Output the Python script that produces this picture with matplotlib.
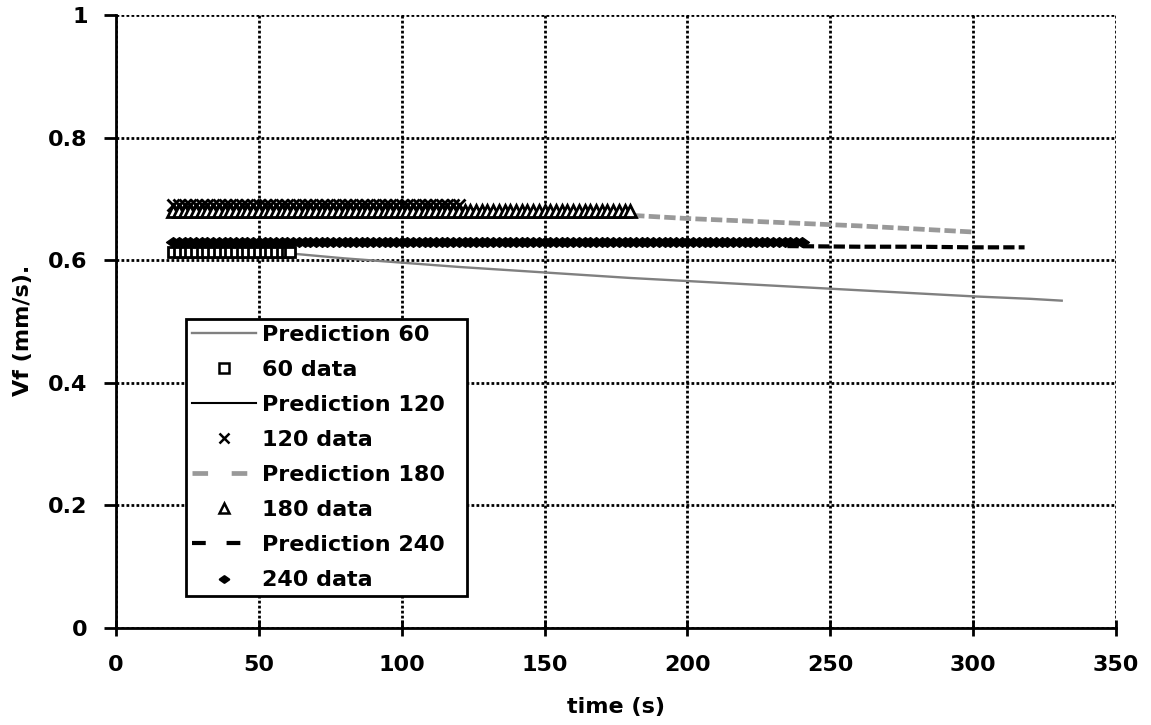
import matplotlib
matplotlib.use("Agg")
import matplotlib.pyplot as plt
from matplotlib.path import Path

plt.rcParams['font.family'] = ['DejaVu Sans']
plt.rcParams['font.weight'] = 'bold'

# ---- data ----
t_data60 = [20, 22, 24, 26, 28, 30, 32, 34, 36, 38, 40, 42, 44, 46, 48, 50, 52, 54, 56, 58, 60, 61]
v_data60 = [0.613] * len(t_data60)

t_data120 = [20, 22, 24, 26, 28, 30, 32, 34, 36, 38, 40, 42, 44, 46, 48, 50, 52, 54, 56, 58,
             60, 62, 64, 66, 68, 70, 72, 74, 76, 78, 80, 82, 84, 86, 88, 90, 92, 94, 96, 98,
             100, 102, 104, 106, 108, 110, 112, 114, 116, 118, 120]
v_data120 = [0.690] * len(t_data120)

t_data180 = [20, 22, 24, 26, 28, 30, 32, 34, 36, 38, 40, 42, 44, 46, 48, 50, 52, 54, 56, 58,
             60, 62, 64, 66, 68, 70, 72, 74, 76, 78, 80, 82, 84, 86, 88, 90, 92, 94, 96, 98,
             100, 102, 104, 106, 108, 110, 112, 114, 116, 118, 120, 122, 124, 126, 128, 130,
             132, 134, 136, 138, 140, 142, 144, 146, 148, 150, 152, 154, 156, 158, 160, 162,
             164, 166, 168, 170, 172, 174, 176, 178, 180]
v_data180 = [0.680] * len(t_data180)

t_data240 = [20, 22, 24, 26, 28, 30, 32, 34, 36, 38, 40, 42, 44, 46, 48, 50, 52, 54, 56, 58,
             60, 62, 64, 66, 68, 70, 72, 74, 76, 78, 80, 82, 84, 86, 88, 90, 92, 94, 96, 98,
             100, 102, 104, 106, 108, 110, 112, 114, 116, 118, 120, 122, 124, 126, 128, 130,
             132, 134, 136, 138, 140, 142, 144, 146, 148, 150, 152, 154, 156, 158, 160, 162,
             164, 166, 168, 170, 172, 174, 176, 178, 180, 182, 184, 186, 188, 190, 192, 194,
             196, 198, 200, 202, 204, 206, 208, 210, 212, 214, 216, 218, 220, 222, 224, 226,
             228, 230, 232, 234, 236, 238, 240]
v_data240 = [0.630] * len(t_data240)

t_pred60 = [61, 80, 100, 120, 140, 160, 180, 200, 220, 240, 260, 280, 300, 320, 331]
v_pred60 = [0.611, 0.603, 0.596, 0.589, 0.583, 0.577, 0.571, 0.566, 0.561, 0.556, 0.551,
            0.546, 0.541, 0.537, 0.534]

t_pred120 = [121, 140, 160, 181]
v_pred120 = [0.684, 0.681, 0.679, 0.677]

t_pred180 = [181, 200, 220, 240, 260, 280, 300]
v_pred180 = [0.673, 0.668, 0.664, 0.660, 0.656, 0.651, 0.646]

t_pred240 = [235, 260, 280, 300, 318]
v_pred240 = [0.623, 0.622, 0.622, 0.621, 0.621]

x_ticks = [0, 50, 100, 150, 200, 250, 300, 350]
y_ticks = [0, 0.2, 0.4, 0.6, 0.8, 1]
y_ticklabels = ['0', '0.2', '0.4', '0.6', '0.8', '1']

# ---- figure ----
fig = plt.figure(figsize=(11.51, 7.25), dpi=100)
ax = fig.add_axes([116/1151, 1 - 628/725, 1000/1151, 613/725])

wide_diamond = Path([(-1, 0), (0, 0.7), (1, 0), (0, -0.7), (-1, 0)],
                    [Path.MOVETO, Path.LINETO, Path.LINETO, Path.LINETO, Path.CLOSEPOLY])

ax.plot(t_pred60, v_pred60, color='#808080', lw=1.7, label='Prediction 60', zorder=3)
ax.plot(t_data60, v_data60, ls='none', marker='s', ms=7, mfc='white', mec='black', mew=2.0,
        label='60 data', zorder=4)
ax.plot(t_pred120, v_pred120, color='black', lw=1.5, label='Prediction 120', zorder=3)
ax.plot(t_data120, v_data120, ls='none', marker='x', ms=8.5, mec='black', mew=2.0,
        label='120 data', zorder=4)
ax.plot(t_pred180, v_pred180, color='#999999', lw=3.4, ls=(0, (2.4, 0.9)),
        label='Prediction 180', zorder=3)
ax.plot(t_data180, v_data180, ls='none', marker='^', ms=8, mfc='white', mec='black', mew=2.0,
        label='180 data', zorder=4)
ax.plot(t_pred240, v_pred240, color='black', lw=3.0, ls=(0, (2.7, 1.0)),
        label='Prediction 240', zorder=3)
ax.plot(t_data240, v_data240, ls='none', marker=wide_diamond, ms=10, mfc='black', mec='black',
        mew=1.0, label='240 data', zorder=4)

ax.set_xlim(0, 350)
ax.set_ylim(0, 1)
ax.set_xticks(x_ticks)
ax.set_yticks(y_ticks)
ax.set_yticklabels(y_ticklabels)

ax.grid(True, color='black', ls=(0, (1, 0.8)), lw=2.0)
ax.set_axisbelow(True)
for s in ['top', 'right']:
    ax.spines[s].set_visible(False)
for s in ['left', 'bottom']:
    ax.spines[s].set_linewidth(2.0)
    ax.spines[s].set_color('black')

ax.tick_params(axis='y', direction='out', length=8.5, width=2.0, labelsize=16, pad=12)
ax.tick_params(axis='x', direction='inout', length=11, width=2.0, labelsize=16, pad=14)
for lab in ax.get_xticklabels() + ax.get_yticklabels():
    lab.set_fontweight('bold')

ax.set_xlabel('time (s)', fontsize=16, fontweight='bold')
ax.set_ylabel('Vf (mm/s).', fontsize=16, fontweight='bold')
ax.xaxis.set_label_coords(0.5, -0.112)
ax.yaxis.set_label_coords(-0.083, 0.486)

leg = ax.legend(loc='upper left', bbox_to_anchor=(0.07, 0.504, 0.281, 0.0), mode='expand',
                borderaxespad=0, fancybox=False, framealpha=1, edgecolor='black',
                fontsize=16, handlelength=2.9, labelspacing=0.68, borderpad=0.25,
                handletextpad=0.25, numpoints=1)
leg.get_frame().set_linewidth(2.0)
for txt in leg.get_texts():
    txt.set_fontweight('bold')
leg_lines = leg.get_lines()
leg_lines[4].set_dashes((3.3, 5.0))
leg_lines[6].set_dashes((3.3, 5.0))
for i in (1, 3, 5, 7):
    leg_lines[i].set_markersize(6.5)
    leg_lines[i].set_markeredgewidth(1.8)

fig.savefig('out.png', dpi=100)
